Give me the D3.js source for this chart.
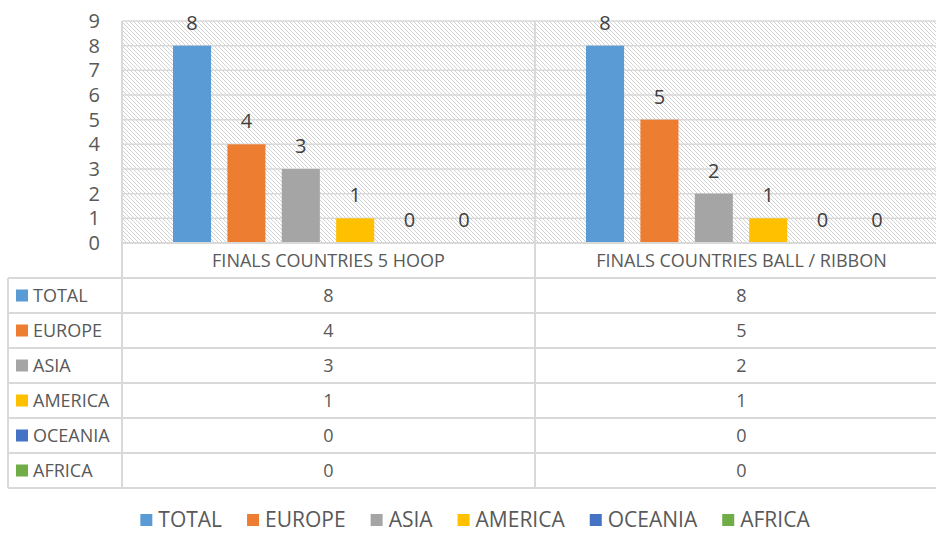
<!DOCTYPE html>
<html>
<head>
<meta charset="utf-8">
<script src="https://cdn.jsdelivr.net/npm/d3@7"></script>
<style>
  body { margin: 0; background: #fff; }
  svg { display: block; font-family: "Open Sans", sans-serif; }
</style>
</head>
<body>
<svg id="chart"></svg>
<script>
var categories = ["FINALS COUNTRIES 5 HOOP", "FINALS COUNTRIES BALL / RIBBON"];
var seriesNames = ["TOTAL", "EUROPE", "ASIA", "AMERICA", "OCEANIA", "AFRICA"];
var hoopValues = [8, 4, 3, 1, 0, 0];
var ballRibbonValues = [8, 5, 2, 1, 0, 0];
var seriesColors = ["#5B9BD5", "#ED7D31", "#A5A5A5", "#FFC000", "#4472C4", "#70AD47"];
var yTickValues = [0, 1, 2, 3, 4, 5, 6, 7, 8, 9];

var values = [hoopValues, ballRibbonValues];

var width = 936, height = 533;
var plotLeft = 122, plotTop = 21, plotBottom = 243;
var groupWidth = 413;
var rowH = 35;
var tableLeft = 8;
var lineColor = "#d9d9d9";
var textColor = "#595959";

var svg = d3.select("#chart")
    .attr("width", width)
    .attr("height", height);

// hatch fill for the plot area
var defs = svg.append("defs");
var pat = defs.append("pattern")
    .attr("id", "hatch")
    .attr("patternUnits", "userSpaceOnUse")
    .attr("width", 4)
    .attr("height", 4);
pat.append("rect").attr("width", 4).attr("height", 4).attr("fill", "#fff");
pat.append("path")
    .attr("d", "M-1,-1 L5,5 M-1,3 L1,5 M3,-1 L5,1")
    .attr("stroke", "#d2d2d2")
    .attr("stroke-width", 1);

var x0 = d3.scaleBand()
    .domain(categories)
    .range([plotLeft, plotLeft + groupWidth * categories.length]);

var x1 = d3.scaleBand()
    .domain(seriesNames)
    .range([51, groupWidth - 52])
    .paddingInner(0.3);

var y = d3.scaleLinear()
    .domain([0, 9])
    .range([plotBottom, plotTop]);

svg.append("rect")
    .attr("x", plotLeft)
    .attr("y", plotTop)
    .attr("width", width - plotLeft)
    .attr("height", plotBottom - plotTop)
    .attr("fill", "url(#hatch)");

// gridlines
svg.append("g")
    .selectAll("line")
    .data(yTickValues)
    .enter().append("line")
    .attr("x1", plotLeft)
    .attr("x2", width)
    .attr("y1", d => y(d))
    .attr("y2", d => y(d))
    .attr("stroke", lineColor)
    .attr("stroke-width", 1.5);

// y axis labels
var yAxis = svg.append("g")
    .attr("transform", "translate(" + plotLeft + ",0)")
    .call(d3.axisLeft(y).tickValues(yTickValues).tickSize(0).tickPadding(22));
yAxis.select(".domain").remove();
yAxis.selectAll("text")
    .attr("fill", textColor)
    .style("font-size", "20px")
    .style("font-family", "Open Sans, sans-serif");

// bars
var groups = svg.append("g")
    .selectAll("g")
    .data(categories)
    .enter().append("g")
    .attr("transform", d => "translate(" + x0(d) + ",0)");

groups.selectAll("rect")
    .data((d, i) => values[i].map((v, j) => ({ name: seriesNames[j], value: v, color: seriesColors[j] })))
    .enter().append("rect")
    .attr("x", d => x1(d.name))
    .attr("y", d => y(d.value))
    .attr("width", x1.bandwidth())
    .attr("height", d => y(0) - y(d.value))
    .attr("fill", d => d.color);

groups.selectAll("text")
    .data((d, i) => values[i].map((v, j) => ({ name: seriesNames[j], value: v })))
    .enter().append("text")
    .attr("x", d => x1(d.name) + x1.bandwidth() / 2)
    .attr("y", d => y(d.value) - 16)
    .attr("text-anchor", "middle")
    .attr("fill", "#404040")
    .style("font-size", "20px")
    .text(d => d.value);

// data table
var tableTop = plotBottom;
var tableBottom = tableTop + rowH * (seriesNames.length + 1);
var table = svg.append("g");

// horizontal lines
table.append("line")
    .attr("x1", plotLeft).attr("x2", width)
    .attr("y1", tableTop).attr("y2", tableTop)
    .attr("stroke", lineColor).attr("stroke-width", 2);
d3.range(1, seriesNames.length + 2).forEach(function(r) {
    table.append("line")
        .attr("x1", tableLeft).attr("x2", width)
        .attr("y1", tableTop + r * rowH).attr("y2", tableTop + r * rowH)
        .attr("stroke", lineColor).attr("stroke-width", 2);
});

// vertical lines
table.append("line")
    .attr("x1", tableLeft).attr("x2", tableLeft)
    .attr("y1", tableTop + rowH).attr("y2", tableBottom)
    .attr("stroke", lineColor).attr("stroke-width", 2);
categories.forEach(function(c) {
    table.append("line")
        .attr("x1", x0(c)).attr("x2", x0(c))
        .attr("y1", plotTop).attr("y2", tableBottom)
        .attr("stroke", lineColor).attr("stroke-width", 2);
});

// category header
table.selectAll(".cat")
    .data(categories)
    .enter().append("text")
    .attr("class", "cat")
    .attr("x", d => x0(d) + groupWidth / 2)
    .attr("y", tableTop + rowH / 2)
    .attr("dy", "0.35em")
    .attr("text-anchor", "middle")
    .attr("fill", textColor)
    .style("font-size", "18px")
    .text(d => d);

// row labels with keys
var rows = table.selectAll(".row")
    .data(seriesNames)
    .enter().append("g")
    .attr("class", "row")
    .attr("transform", (d, i) => "translate(0," + (tableTop + rowH * (i + 1)) + ")");

rows.append("rect")
    .attr("x", 16)
    .attr("y", rowH / 2 - 6)
    .attr("width", 12)
    .attr("height", 12)
    .attr("fill", (d, i) => seriesColors[i]);

rows.append("text")
    .attr("x", 33)
    .attr("y", rowH / 2)
    .attr("dy", "0.35em")
    .attr("fill", textColor)
    .style("font-size", "18px")
    .text(d => d);

categories.forEach(function(c, ci) {
    rows.append("text")
        .attr("x", x0(c) + groupWidth / 2)
        .attr("y", rowH / 2)
        .attr("dy", "0.35em")
        .attr("text-anchor", "middle")
        .attr("fill", textColor)
        .style("font-size", "18px")
        .text((d, i) => values[ci][i]);
});

// legend
var legend = svg.append("g");
var items = legend.selectAll("g")
    .data(seriesNames)
    .enter().append("g");
items.append("rect")
    .attr("width", 12)
    .attr("height", 12)
    .attr("y", -6)
    .attr("fill", (d, i) => seriesColors[i]);
items.append("text")
    .attr("x", 18)
    .attr("y", 7)
    .attr("fill", textColor)
    .style("font-size", "21px")
    .text(d => d);

var pos = 0;
var offsets = [];
items.each(function() {
    offsets.push(pos);
    var w = d3.select(this).select("text").node().getComputedTextLength();
    pos += 18 + w + 25;
});
var totalW = pos - 25;
var legendX = 475 - totalW / 2;
items.attr("transform", (d, i) => "translate(" + (legendX + offsets[i]) + ",520)");
</script>
</body>
</html>
